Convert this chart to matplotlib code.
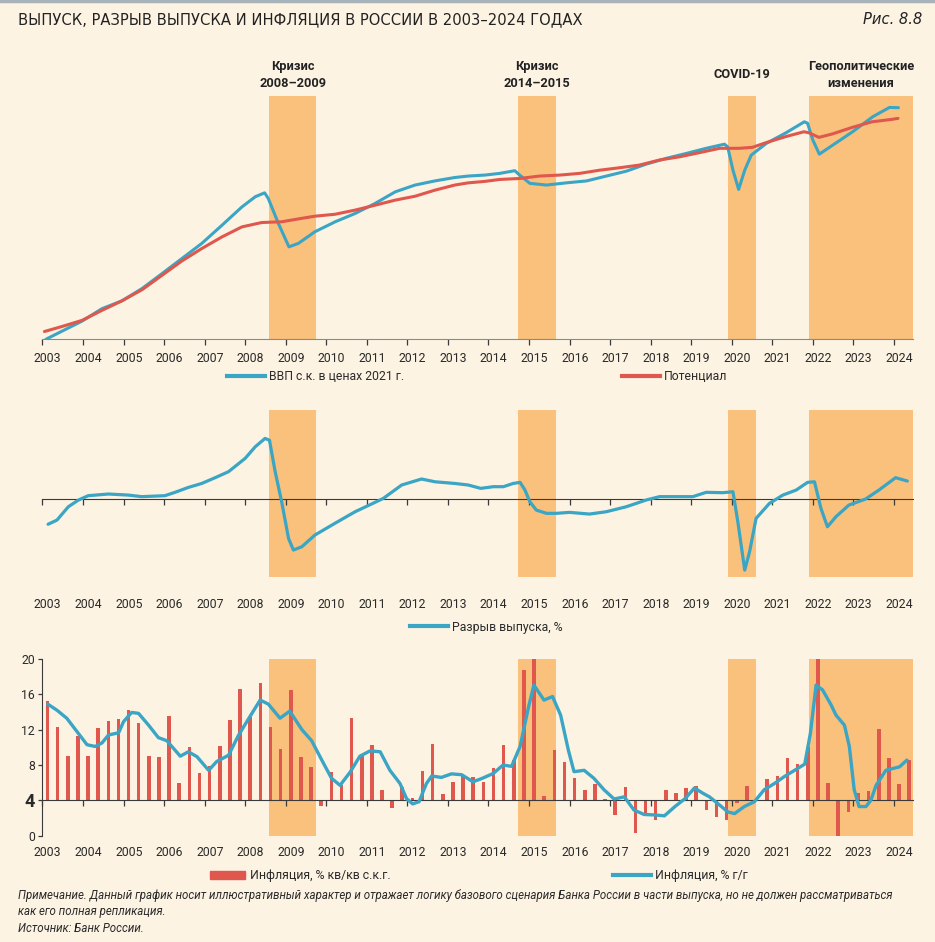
import matplotlib.pyplot as plt
import numpy as np
from matplotlib.lines import Line2D
from matplotlib.patches import Patch

plt.rcParams['font.family'] = ['Roboto', 'DejaVu Sans']

BG = '#FCF3E3'
SHADE = '#F9C17C'
BLUE = '#3AA5C4'
RED = '#E0574D'
AXIS = '#3A3A3A'

years = np.arange(2003, 2025)
year_labels = [str(y) for y in years]

# shaded episodes (start, end in fractional years)
episodes = [(2008.59, 2009.75), (2014.74, 2015.67), (2019.91, 2020.60), (2021.90, 2024.47)]
episode_titles = ['Кризис\n2008–2009', 'Кризис\n2014–2015', 'COVID-19', 'Геополитические\nизменения']

# top panel: GDP and potential (index, no scale shown)
gdp_t = [2003.05, 2003.12, 2003.49, 2003.98, 2004.47, 2004.96, 2005.46, 2005.95, 2006.44, 2006.93,
         2007.43, 2007.92, 2008.25, 2008.48, 2008.57, 2008.82, 2009.08, 2009.31, 2009.72, 2010.22,
         2010.71, 2011.20, 2011.70, 2012.19, 2012.68, 2013.17, 2013.50, 2013.91, 2014.28, 2014.65,
         2014.77, 2015.02, 2015.43, 2015.92, 2016.42, 2016.91, 2017.40, 2017.89, 2018.39, 2018.88,
         2019.37, 2019.82, 2019.90, 2020.03, 2020.17, 2020.32, 2020.48, 2020.85, 2021.34, 2021.79,
         2021.87, 2022.00, 2022.16, 2022.49, 2022.98, 2023.48, 2023.89, 2024.11]
gdp = [-0.5, 0.3, 3.4, 7.5, 12.6, 15.8, 20.9, 27.0, 33.2, 39.4,
       46.9, 54.4, 58.6, 60.2, 57.9, 47.6, 38.0, 39.4, 44.2, 48.3,
       51.7, 55.8, 60.6, 63.4, 65.1, 66.5, 67.1, 67.5, 68.2, 69.3,
       67.5, 64.1, 63.4, 64.3, 65.1, 67.1, 69.1, 72.0, 74.4, 76.4,
       78.5, 80.2, 79.1, 69.5, 61.6, 69.5, 75.7, 80.5, 84.9, 89.4,
       88.8, 81.9, 76.1, 79.8, 85.3, 91.5, 95.3, 95.2]
pot_t = [2003.05, 2003.49, 2003.98, 2004.47, 2004.96, 2005.46, 2005.95, 2006.44, 2006.93, 2007.43,
         2007.92, 2008.41, 2008.90, 2009.39, 2009.72, 2010.22, 2010.71, 2011.20, 2011.70, 2012.19,
         2012.68, 2013.17, 2013.50, 2013.91, 2014.28, 2014.77, 2015.26, 2015.76, 2016.25, 2016.74,
         2017.23, 2017.72, 2018.22, 2018.71, 2019.20, 2019.70, 2020.19, 2020.51, 2020.84, 2021.33,
         2021.78, 2021.90, 2022.15, 2022.48, 2022.97, 2023.46, 2023.95, 2024.10]
pot = [3.2, 5.3, 7.8, 11.9, 15.8, 20.4, 26.3, 32.2, 37.3, 42.1,
       46.2, 48.0, 48.3, 49.7, 50.6, 51.4, 53.1, 55.1, 57.2, 58.8,
       61.3, 63.4, 64.3, 64.9, 65.7, 66.1, 67.1, 67.5, 68.2, 69.5,
       70.5, 71.6, 73.7, 75.0, 76.7, 78.5, 78.5, 78.9, 80.8, 83.3,
       85.3, 84.9, 83.0, 84.4, 87.1, 89.4, 90.4, 90.8]

# middle panel: output gap, %
gap_t = [2003.14, 2003.36, 2003.64, 2003.89, 2004.13, 2004.63, 2005.12, 2005.45, 2006.02, 2006.27,
         2006.60, 2006.93, 2007.26, 2007.59, 2008.00, 2008.25, 2008.49, 2008.60, 2008.74, 2008.90,
         2009.07, 2009.19, 2009.40, 2009.72, 2010.21, 2010.71, 2011.20, 2011.41, 2011.86, 2012.35,
         2012.68, 2013.17, 2013.50, 2013.81, 2014.12, 2014.37, 2014.61, 2014.78, 2014.90, 2015.02,
         2015.18, 2015.43, 2015.67, 2016.00, 2016.49, 2016.90, 2017.40, 2017.89, 2018.22, 2018.71,
         2019.04, 2019.37, 2019.78, 2020.03, 2020.15, 2020.32, 2020.44, 2020.60, 2020.93, 2021.26,
         2021.59, 2021.87, 2022.04, 2022.20, 2022.36, 2022.57, 2022.89, 2023.30, 2023.63, 2024.04,
         2024.33]
gap = [-2.1, -1.75, -0.64, -0.08, 0.28, 0.42, 0.33, 0.2, 0.28, 0.56,
       0.97, 1.3, 1.78, 2.28, 3.39, 4.36, 5.05, 4.9, 2.28, -0.22,
       -3.28, -4.25, -3.97, -3.0, -2.03, -1.06, -0.28, 0.06, 1.17, 1.67,
       1.44, 1.3, 1.17, 0.89, 1.03, 1.03, 1.3, 1.39, 0.75, -0.22,
       -0.92, -1.19, -1.19, -1.11, -1.25, -1.06, -0.64, -0.08, 0.2, 0.2,
       0.2, 0.56, 0.53, 0.61, -1.89, -5.92, -4.39, -1.61, -0.36, 0.33,
       0.75, 1.39, 1.44, -0.78, -2.31, -1.47, -0.5, 0.0, 0.75, 1.78,
       1.5]

# bottom panel: inflation, quarterly from 2003Q1
cpi_qq = [15.2, 12.3, 9.05, 11.3,
          9.0, 12.2, 13.0, 13.2,
          14.2, 12.8, 9.05, 8.9,
          13.5, 6.0, 10.0, 7.05,
          7.9, 10.1, 13.1, 16.6,
          13.4, 17.3, 12.3, 9.8,
          16.5, 8.95, 7.8, 3.4,
          7.2, 5.7, 13.3, 9.3,
          10.3, 5.2, 3.15, 5.5,
          4.3, 7.3, 10.35, 4.7,
          6.1, 6.75, 6.7, 6.1,
          7.7, 10.3, 8.6, 18.8,
          20.5, 4.5, 9.7, 8.3,
          6.5, 5.2, 5.85, 4.1,
          2.35, 5.5, 0.35, 2.3,
          1.8, 5.2, 4.8, 5.4,
          5.6, 2.9, 2.15, 1.8,
          3.7, 5.65, 4.05, 6.4,
          6.75, 8.8, 8.1, 10.0,
          20.5, 6.0, 0.0, 2.65,
          4.8, 5.1, 12.1, 8.75,
          5.85, 8.6]
cpi_yy_t = [2003.13, 2003.36, 2003.60, 2003.85, 2004.10, 2004.30, 2004.47, 2004.63, 2004.88, 2005.00,
            2005.20, 2005.37, 2005.62, 2005.86, 2006.07, 2006.23, 2006.40, 2006.60, 2006.81, 2007.10,
            2007.30, 2007.59, 2007.84, 2008.12, 2008.37, 2008.57, 2008.86, 2009.10, 2009.40, 2009.64,
            2009.89, 2010.13, 2010.34, 2010.59, 2010.83, 2011.08, 2011.33, 2011.57, 2011.82, 2011.98,
            2012.13, 2012.29, 2012.47, 2012.60, 2012.84, 2013.09, 2013.34, 2013.62, 2013.85, 2014.12,
            2014.36, 2014.57, 2014.78, 2014.99, 2015.12, 2015.37, 2015.58, 2015.78, 2015.97, 2016.11,
            2016.36, 2016.60, 2016.85, 2017.10, 2017.35, 2017.59, 2017.84, 2018.10, 2018.34, 2018.60,
            2018.85, 2019.08, 2019.29, 2019.45, 2019.70, 2019.90, 2020.07, 2020.31, 2020.56, 2020.80,
            2021.05, 2021.30, 2021.55, 2021.80, 2021.94, 2022.08, 2022.24, 2022.45, 2022.57, 2022.78,
            2022.90, 2023.02, 2023.14, 2023.31, 2023.43, 2023.56, 2023.80, 2023.97, 2024.14, 2024.32]
cpi_yy = [14.9, 14.2, 13.3, 11.8, 10.3, 10.1, 10.5, 11.4, 11.65, 12.9,
          13.95, 13.85, 12.5, 11.1, 10.75, 9.9, 9.0, 9.5, 8.95, 7.4,
          8.4, 9.1, 11.4, 13.5, 15.35, 14.9, 13.3, 14.1, 12.0, 10.75,
          8.56, 6.5, 5.7, 7.2, 9.0, 9.6, 9.5, 7.4, 5.9, 4.2,
          3.6, 3.85, 5.9, 6.75, 6.6, 7.0, 6.9, 6.1, 6.5, 7.05,
          8.0, 7.85, 10.1, 14.6, 17.05, 15.35, 15.75, 13.65, 9.7, 7.25,
          7.4, 6.5, 5.2, 4.15, 4.4, 2.9, 2.4, 2.35, 2.25, 3.3,
          4.2, 5.4, 4.8, 4.4, 3.47, 2.7, 2.5, 3.3, 3.85, 5.2,
          5.9, 6.7, 7.4, 8.1, 11.6, 17.05, 16.5, 14.8, 13.65, 12.5,
          10.1, 5.2, 3.3, 3.3, 4.0, 5.7, 7.4, 7.6, 7.8, 8.56]

W, H = 935, 942
fig = plt.figure(figsize=(W / 100, H / 100), dpi=100, facecolor=BG)


def px_axes(x0, y0, x1, y1):
    return fig.add_axes([x0 / W, 1 - y1 / H, (x1 - x0) / W, (y1 - y0) / H])


def setup_time_axis(ax, pad):
    ax.set_facecolor('none')
    ax.set_xlim(2002.99, 2024.47)
    for s in ['top', 'right', 'left']:
        ax.spines[s].set_visible(False)
    ax.set_xticks(years)
    ax.set_xticklabels([])
    ax.set_xticks(years + 0.13, minor=True)
    ax.set_xticklabels(year_labels, minor=True)
    ax.tick_params(axis='x', which='major', direction='out', length=4, width=0.9, colors=AXIS)
    ax.tick_params(axis='x', which='minor', length=0, pad=pad, labelsize=8.8, labelcolor='#2a2a2a')
    ax.set_yticks([])
    for a, b in episodes:
        ax.axvspan(a, b, color=SHADE, lw=0, zorder=0)


# --- top panel
ax1 = px_axes(42, 96, 913, 339.3)
setup_time_axis(ax1, 9)
ax1.set_ylim(0, 100)
ax1.spines['bottom'].set_color('#8a8a8a')
ax1.plot(gdp_t, gdp, color=BLUE, lw=2.2, zorder=3, solid_capstyle='round')
ax1.plot(pot_t, pot, color=RED, lw=2.2, zorder=4, solid_capstyle='round')

# --- middle panel
ax2 = px_axes(42, 410, 913, 576.7)
setup_time_axis(ax2, 71)
ax2.set_ylim(-6.47, 7.42)
ax2.spines['bottom'].set_position(('data', 0))
ax2.spines['bottom'].set_color(AXIS)
ax2.plot(gap_t, gap, color=BLUE, lw=2.3, zorder=3, solid_capstyle='round')

# --- bottom panel
ax3 = px_axes(42, 659, 913, 835.7)
setup_time_axis(ax3, 33)
ax3.set_ylim(0, 20)
ax3.spines['left'].set_visible(True)
ax3.spines['left'].set_color(AXIS)
ax3.spines['bottom'].set_position(('data', 4))
ax3.spines['bottom'].set_color(AXIS)
ax3.set_yticks([0, 4, 8, 12, 16, 20])
ax3.set_yticklabels(['0', '4', '8', '12', '16', '20'])
ax3.tick_params(axis='y', direction='out', length=3, width=0.9, colors=AXIS,
                labelsize=8.8, labelcolor='#2a2a2a', pad=2)
lab4 = ax3.get_yticklabels()[1]
lab4.set_fontweight('bold')
lab4.set_fontsize(13)
qx = 2003.125 + 0.25 * np.arange(len(cpi_qq))
ax3.bar(qx, np.array(cpi_qq) - 4, bottom=4, width=0.088, color=RED, zorder=2)
ax3.plot(cpi_yy_t, cpi_yy, color=BLUE, lw=2.4, zorder=3, solid_capstyle='round')

# episode captions
for (a, b), title in zip(episodes, episode_titles):
    ax1.text((a + b) / 2, 1.0 + 21 / 243, title, transform=ax1.get_xaxis_transform(),
             ha='center', va='center', fontsize=9.2, fontweight='bold', color='#222222',
             linespacing=1.35)


# legends
def add_legend(handle, label, x, y, **kw):
    leg = fig.legend(handles=[handle], labels=[label], loc='center left',
                     bbox_to_anchor=(x / W, 1 - y / H), frameon=False, borderpad=0,
                     borderaxespad=0, handletextpad=0.35, fontsize=8.8, **kw)
    for t in leg.get_texts():
        t.set_color('#2a2a2a')
    return leg


add_legend(Line2D([], [], color=BLUE, lw=3), 'ВВП с.к. в ценах 2021 г.', 227, 377, handlelength=3.1)
add_legend(Line2D([], [], color=RED, lw=3), 'Потенциал', 622, 377, handlelength=3.1)
add_legend(Line2D([], [], color=BLUE, lw=3), 'Разрыв выпуска, %', 410, 627, handlelength=3.1)
add_legend(Patch(color=RED), 'Инфляция, % кв/кв с.к.г.', 210, 876, handlelength=2.9, handleheight=0.6)
add_legend(Line2D([], [], color=BLUE, lw=3), 'Инфляция, % г/г', 613, 876, handlelength=3.1)

# title and notes
fig.add_artist(Line2D([0, 1], [1 - 1 / H, 1 - 1 / H], transform=fig.transFigure, color='#A7B3B8', lw=2.5))
fig.text(18 / W, 1 - 20 / H, 'ВЫПУСК, РАЗРЫВ ВЫПУСКА И ИНФЛЯЦИЯ В РОССИИ В 2003–2024 ГОДАХ',
         family='DejaVu Sans', stretch='condensed', fontsize=11.8,
         va='center', ha='left', color='#222222')
fig.text(922 / W, 1 - 20 / H, 'Рис. 8.8', family='DejaVu Sans', stretch='condensed',
         fontsize=11.8, style='italic', va='center', ha='right', color='#222222')
notes = ['Примечание. Данный график носит иллюстративный характер и отражает логику базового сценария '
         'Банка России в части выпуска, но не должен рассматриваться',
         'как его полная репликация.',
         'Источник: Банк России.']
for i, line in enumerate(notes):
    fig.text(18 / W, 1 - (896 + 16 * i) / H, line, fontsize=8.3, style='italic',
             va='center', ha='left', color='#2a2a2a')

fig.savefig('out.png', dpi=100, facecolor=BG)
